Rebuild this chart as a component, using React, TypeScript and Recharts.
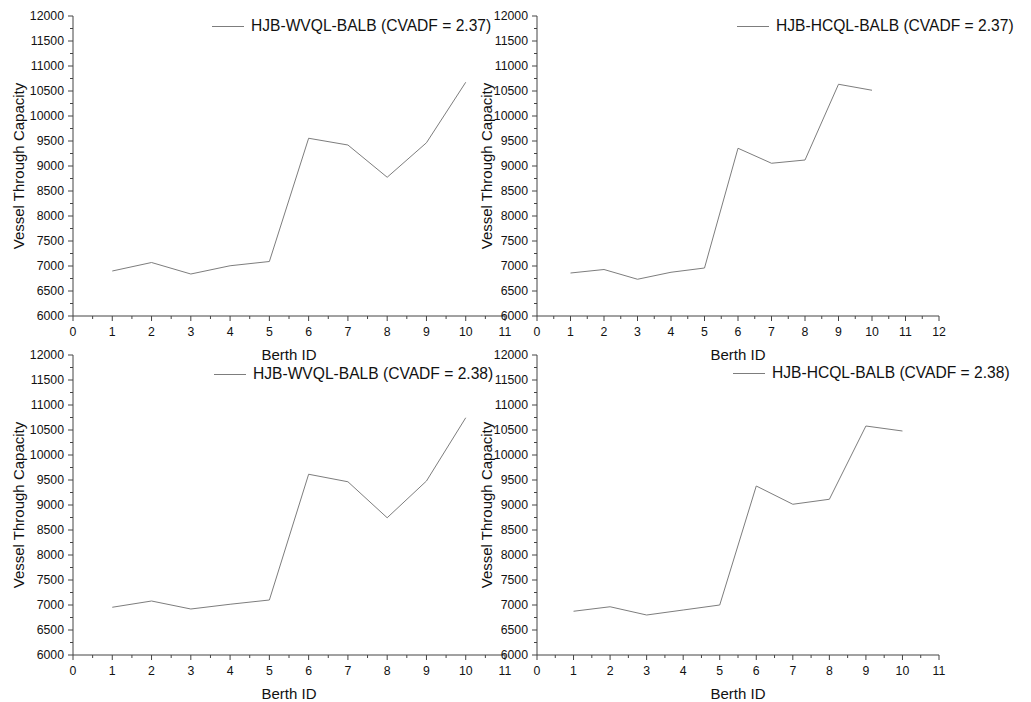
import { Line, LineChart, XAxis, YAxis } from "recharts";

const berthIds = [1, 2, 3, 4, 5, 6, 7, 8, 9, 10];
const wvql237 = [6900, 7070, 6840, 7005, 7090, 9555, 9420, 8775, 9465, 10675];
const hcql237 = [6860, 6930, 6735, 6875, 6960, 9355, 9055, 9120, 10635, 10515];
const wvql238 = [6955, 7080, 6920, 7015, 7100, 9615, 9465, 8745, 9480, 10745];
const hcql238 = [6875, 6965, 6800, 6900, 7000, 9380, 9015, 9115, 10580, 10480];

const yMajor = [6000, 6500, 7000, 7500, 8000, 8500, 9000, 9500, 10000, 10500, 11000, 11500, 12000];
const xMajor11 = [0, 1, 2, 3, 4, 5, 6, 7, 8, 9, 10, 11];
const xMajor12 = [0, 1, 2, 3, 4, 5, 6, 7, 8, 9, 10, 11, 12];

const FONT = '"Liberation Sans", Arial, sans-serif';
const AXIS = "#444";
const LINE = "#7d7d7d";
const TEXT = "#111";

// majors plus one minor tick halfway between each pair
function withMinor(major: number[]) {
  const out: number[] = [];
  major.forEach((v, i) => {
    out.push(v);
    if (i < major.length - 1) out.push((v + major[i + 1]) / 2);
  });
  return out;
}

function YTick({ x, y, payload }: any) {
  const major = payload.value % 500 === 0;
  return (
    <g>
      <line x1={x - (major ? 5 : 3)} x2={x} y1={y} y2={y} stroke={AXIS} />
      {major && (
        <text x={x - 9} y={y + 4} textAnchor="end" fontSize={12.3} fill={TEXT} fontFamily={FONT}>
          {payload.value}
        </text>
      )}
    </g>
  );
}

function XTick({ x, y, payload }: any) {
  const major = Number.isInteger(payload.value);
  return (
    <g>
      <line x1={x} x2={x} y1={y} y2={y + (major ? 5 : 3)} stroke={AXIS} />
      {major && (
        <text x={x} y={y + 20} textAnchor="middle" fontSize={12.3} fill={TEXT} fontFamily={FONT}>
          {payload.value}
        </text>
      )}
    </g>
  );
}

type PanelProps = {
  left: number;
  top: number;
  width: number;
  height: number;
  yAxisWidth: number;
  xAxisHeight: number;
  marginRight: number;
  xMajor: number[];
  values: number[];
  name: string;
  yLabelGap: number;
  legendLeft: number;
  legendTop: number;
};

function Panel(p: PanelProps) {
  const data = berthIds.map((id, i) => ({ x: id, v: p.values[i] }));
  const xMax = p.xMajor[p.xMajor.length - 1];
  return (
    <div style={{ position: "absolute", left: p.left, top: p.top, width: p.width, height: p.height, pointerEvents: "none" }}>
      <LineChart
        width={p.width}
        height={p.height}
        data={data}
        margin={{ top: 16, right: p.marginRight, bottom: 0, left: 0 }}
      >
        <XAxis
          dataKey="x"
          type="number"
          domain={[0, xMax]}
          ticks={withMinor(p.xMajor)}
          interval={0}
          height={p.xAxisHeight}
          stroke={AXIS}
          tickLine={false}
          tickSize={0}
          tickMargin={0}
          tick={<XTick />}
          label={(lp: any) => {
            const vb = lp.viewBox;
            return (
              <text x={vb.x + vb.width / 2} y={vb.y + 44} textAnchor="middle" fontSize={15} fill={TEXT} fontFamily={FONT}>
                Berth ID
              </text>
            );
          }}
        />
        <YAxis
          type="number"
          domain={[6000, 12000]}
          ticks={withMinor(yMajor)}
          interval={0}
          width={p.yAxisWidth}
          stroke={AXIS}
          tickLine={false}
          tickSize={0}
          tickMargin={0}
          tick={<YTick />}
          label={(lp: any) => {
            const vb = lp.viewBox;
            const cx = vb.x + vb.width - p.yLabelGap;
            const cy = vb.y + vb.height / 2;
            return (
              <text
                x={cx}
                y={cy}
                transform={`rotate(-90 ${cx} ${cy})`}
                textAnchor="middle"
                dominantBaseline="central"
                fontSize={15}
                fill={TEXT}
                fontFamily={FONT}
              >
                Vessel Through Capacity
              </text>
            );
          }}
        />
        <Line
          type="linear"
          dataKey="v"
          name={p.name}
          stroke={LINE}
          strokeWidth={1}
          dot={false}
          isAnimationActive={false}
        />
      </LineChart>
      <div
        style={{
          position: "absolute",
          left: p.legendLeft - p.left,
          top: p.legendTop - p.top - 10,
          height: 20,
          display: "flex",
          alignItems: "center",
          whiteSpace: "nowrap",
          fontFamily: FONT,
          fontSize: 15.6,
          color: TEXT,
        }}
      >
        <span style={{ display: "inline-block", width: 32, height: 1, background: LINE, marginRight: 7 }} />
        <span>{p.name}</span>
      </div>
    </div>
  );
}

export default function App() {
  return (
    <div style={{ position: "absolute", left: 0, top: 0, width: 1031, height: 702, background: "#fff" }}>
      <Panel
        left={0}
        top={0}
        width={520}
        height={370}
        yAxisWidth={73}
        xAxisHeight={54}
        marginRight={15}
        xMajor={xMajor11}
        values={wvql237}
        name="HJB-WVQL-BALB (CVADF = 2.37)"
        yLabelGap={55}
        legendLeft={212}
        legendTop={26}
      />
      <Panel
        left={470}
        top={0}
        width={561}
        height={370}
        yAxisWidth={67}
        xAxisHeight={54}
        marginRight={92}
        xMajor={xMajor12}
        values={hcql237}
        name="HJB-HCQL-BALB (CVADF = 2.37)"
        yLabelGap={51}
        legendLeft={737}
        legendTop={26}
      />
      <Panel
        left={0}
        top={339}
        width={520}
        height={363}
        yAxisWidth={73}
        xAxisHeight={47}
        marginRight={15}
        xMajor={xMajor11}
        values={wvql238}
        name="HJB-WVQL-BALB (CVADF = 2.38)"
        yLabelGap={55}
        legendLeft={214}
        legendTop={374}
      />
      <Panel
        left={470}
        top={339}
        width={561}
        height={363}
        yAxisWidth={67}
        xAxisHeight={47}
        marginRight={92}
        xMajor={xMajor11}
        values={hcql238}
        name="HJB-HCQL-BALB (CVADF = 2.38)"
        yLabelGap={51}
        legendLeft={733}
        legendTop={373}
      />
    </div>
  );
}
